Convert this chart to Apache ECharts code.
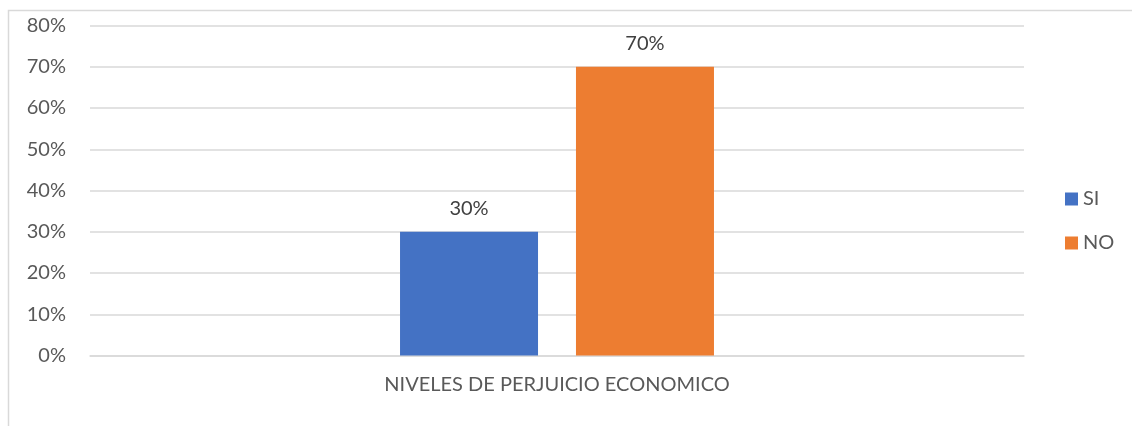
<!DOCTYPE html>
<html>
<head>
<meta charset="utf-8">
<script src="https://cdn.jsdelivr.net/npm/echarts@6/dist/echarts.min.js"></script>
<style>
html,body{margin:0;padding:0;background:#fff;}
#chart{width:1132px;height:426px;}
</style>
</head>
<body>
<div id="chart"></div>
<script>
var categories = ['NIVELES DE PERJUICIO ECONOMICO'];
var seriesNames = ['SI', 'NO'];
var siValues = [30];
var noValues = [70];
var yTicks = [0, 10, 20, 30, 40, 50, 60, 70, 80];

var FONT = 'Lato, "Open Sans", sans-serif';
var chart = echarts.init(document.getElementById('chart'), null, {renderer: 'canvas'});
chart.setOption({
  animation: false,
  backgroundColor: '#fff',
  graphic: [{
    type: 'rect', silent: true, z: -10,
    shape: {x: 8.5, y: 10.5, width: 1300, height: 600},
    style: {fill: 'none', stroke: '#d9d9d9', lineWidth: 1.5}
  }],
  grid: {left: 90, right: 108, top: 25.5, bottom: 70.5, containLabel: false},
  legend: {
    orient: 'vertical', left: 1065, top: 189, padding: 0,
    data: seriesNames, icon: 'rect', itemWidth: 13, itemHeight: 13, itemGap: 24,
    textStyle: {fontFamily: FONT, fontSize: 20, color: '#595959'}
  },
  xAxis: {
    type: 'category', data: categories,
    axisLine: {show: true, lineStyle: {color: '#d9d9d9', width: 1.5}},
    axisTick: {show: false},
    axisLabel: {fontFamily: FONT, fontSize: 20, color: '#595959', margin: 19}
  },
  yAxis: {
    type: 'value', min: 0, max: 80, interval: 10,
    axisLine: {show: false}, axisTick: {show: false},
    splitLine: {lineStyle: {color: '#d9d9d9', width: 1.5}},
    axisLabel: {fontFamily: FONT, fontSize: 20, color: '#595959', margin: 24,
      formatter: function (v) { return yTicks.indexOf(v) >= 0 ? v + '%' : ''; }}
  },
  series: [
    {name: 'SI', type: 'bar', data: siValues, barWidth: 138, barGap: '27.5%',
     itemStyle: {color: '#4472c4'},
     label: {show: true, position: 'top', distance: 13, formatter: '{c}%',
       fontFamily: FONT, fontSize: 20, color: '#404040'}},
    {name: 'NO', type: 'bar', data: noValues, barWidth: 138,
     itemStyle: {color: '#ed7d31'},
     label: {show: true, position: 'top', distance: 13, formatter: '{c}%',
       fontFamily: FONT, fontSize: 20, color: '#404040'}}
  ]
});
</script>
</body>
</html>
